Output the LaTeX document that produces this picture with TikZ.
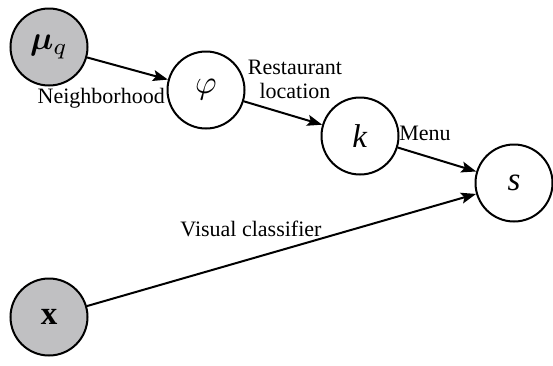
\documentclass[tikz,border=0pt]{standalone}
\usepackage{graphicx}
\usepackage{bm}
\usepackage{fontspec}
\setmainfont{Liberation Serif}
\usetikzlibrary{arrows.meta}
\definecolor{obsgray}{RGB}{192,192,194}
\newcommand{\bigmath}[1]{\scalebox{3.3}{$#1$}}
\begin{document}
\begin{tikzpicture}[x=1pt,y=-1pt,
  var/.style={circle,draw=black,line width=2pt,minimum size=77pt,inner sep=0pt,font=\fontsize{33}{36}\selectfont},
  obs/.style={var,fill=obsgray},
  lat/.style={var,fill=white},
  conn/.style={line width=2pt,-{Stealth[length=15pt,width=11pt,inset=3pt]}},
  lbl/.style={font=\fontsize{22}{24}\selectfont,inner sep=0pt,align=center}]
\useasboundingbox (0,0) rectangle (553,365);
\node[obs] (mu) at (49,47) {\fontsize{10}{12}\selectfont\bigmath{\bm{\mu}_q}};
\node[lat] (phi) at (206,90) {\fontsize{10}{12}\selectfont\bigmath{\varphi}};
\node[lat] (k) at (360,136) {\textit{k}};
\node[lat] (s) at (514,183) {\textit{s}};
\node[obs] (x) at (49,317) {\fontsize{10}{12}\selectfont\bigmath{\mathbf{x}}};
\draw[conn] (mu) -- (phi);
\draw[conn] (phi) -- (k);
\draw[conn] (k) -- (s);
\draw[conn] (x) -- (s);
\node[lbl,anchor=east] (lneigh) at (165,98) {Neighborhood};
\node[lbl] (lrest) at (295,79) {Restaurant\\location};
\node[lbl] (lmenu) at (425,133) {Menu};
\node[lbl] (lvis) at (251,229) {Visual classifier};
\end{tikzpicture}
\end{document}
